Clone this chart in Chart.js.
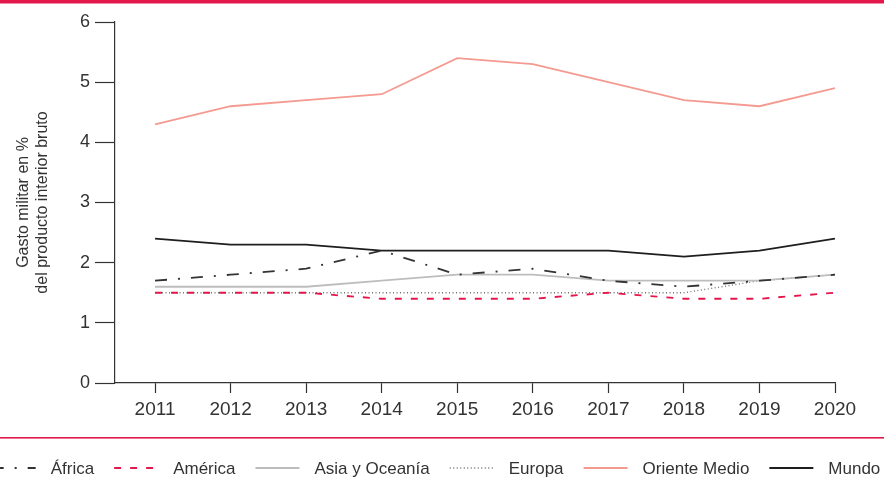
<!DOCTYPE html>
<html>
<head>
<meta charset="utf-8">
<script src="https://cdn.jsdelivr.net/npm/chart.js@4"></script>
<style>
html,body{margin:0;padding:0;background:#fff;}
#wrap{width:884px;height:478px;position:relative;}
</style>
</head>
<body>
<div id="wrap"><canvas id="c" width="884" height="478"></canvas></div>
<script>
const years = [2011, 2012, 2013, 2014, 2015, 2016, 2017, 2018, 2019, 2020];
const africa = [1.7, 1.8, 1.9, 2.2, 1.8, 1.9, 1.7, 1.6, 1.7, 1.8];
const america = [1.5, 1.5, 1.5, 1.4, 1.4, 1.4, 1.5, 1.4, 1.4, 1.5];
const asiaOceania = [1.6, 1.6, 1.6, 1.7, 1.8, 1.8, 1.7, 1.7, 1.7, 1.8];
const europa = [1.5, 1.5, 1.5, 1.5, 1.5, 1.5, 1.5, 1.5, 1.7, 1.8];
const orienteMedio = [4.3, 4.6, 4.7, 4.8, 5.4, 5.3, 5.0, 4.7, 4.6, 4.9];
const mundo = [2.4, 2.3, 2.3, 2.2, 2.2, 2.2, 2.2, 2.1, 2.2, 2.4];
const yTicks = [0, 1, 2, 3, 4, 5, 6];
const yTitle = ['Gasto militar en %', 'del producto interior bruto'];

const RED = '#e3174b';
const FONT = "'Liberation Sans', Arial, sans-serif";

function pts(arr) { return arr.map((v, i) => ({x: years[i], y: v})); }

const series = [
  {label: 'África', data: africa, color: '#333333', dash: [12, 11, 2, 11], width: 1.8},
  {label: 'América', data: america, color: '#e3174b', dash: [7, 9], width: 1.8},
  {label: 'Asia y Oceanía', data: asiaOceania, color: '#bdbdbd', dash: [], width: 1.8},
  {label: 'Europa', data: europa, color: '#6f6f6f', dash: [1, 2.5], width: 1.3},
  {label: 'Oriente Medio', data: orienteMedio, color: '#f59a90', dash: [], width: 1.8},
  {label: 'Mundo', data: mundo, color: '#1e1e1e', dash: [], width: 1.8}
];

const decor = {
  id: 'decor',
  afterDraw(chart) {
    const ctx = chart.ctx;
    ctx.save();
    ctx.fillStyle = RED;
    ctx.fillRect(0, 0, chart.width, 3.5);
    ctx.fillRect(0, 437, chart.width, 1.6);
    ctx.font = '17px ' + FONT;
    ctx.textBaseline = 'middle';
    const sample = 44, gapT = 15, gapItem = 20;
    const widths = series.map(s => ctx.measureText(s.label).width);
    let total = 0;
    widths.forEach((w, i) => { total += sample + gapT + w + (i < widths.length - 1 ? gapItem : 0); });
    let x = (chart.width - total) / 2 - 6;
    const y = 468;
    series.forEach((s, i) => {
      ctx.beginPath();
      ctx.setLineDash(s.dash);
      ctx.strokeStyle = s.color;
      ctx.lineWidth = s.width;
      ctx.moveTo(x, y);
      ctx.lineTo(x + sample, y);
      ctx.stroke();
      ctx.setLineDash([]);
      ctx.fillStyle = '#333';
      ctx.fillText(s.label, x + sample + gapT, y + 1);
      x += sample + gapT + widths[i] + gapItem;
    });
    ctx.restore();
  }
};

new Chart(document.getElementById('c'), {
  type: 'line',
  data: {
    datasets: series.map(s => ({
      label: s.label,
      data: pts(s.data),
      borderColor: s.color,
      borderWidth: s.width,
      borderDash: s.dash,
      pointRadius: 0,
      fill: false,
      tension: 0
    }))
  },
  options: {
    responsive: false,
    animation: false,
    events: [],
    layout: {padding: {top: 22, right: 49, bottom: 55, left: 0}},
    plugins: {legend: {display: false}, tooltip: {enabled: false}},
    scales: {
      x: {
        type: 'linear',
        min: 2010.47,
        max: 2020,
        afterFit(scale) { scale.height = 40; },
        afterBuildTicks(scale) { scale.ticks = years.map(v => ({value: v})); },
        grid: {drawOnChartArea: false, tickLength: 10, color: '#333', tickWidth: 1.2},
        border: {color: '#333', width: 1.2},
        ticks: {
          color: '#333',
          padding: 5,
          maxRotation: 0,
          autoSkip: false,
          font: {family: FONT, size: 19},
          callback: v => String(v)
        }
      },
      y: {
        min: 0,
        max: 6,
        afterFit(scale) { scale.width = 115; },
        afterBuildTicks(scale) { scale.ticks = yTicks.map(v => ({value: v})); },
        grid: {drawOnChartArea: false, tickLength: 20, color: '#333', tickWidth: 1.2},
        border: {color: '#333', width: 1.2},
        ticks: {color: '#333', padding: 5, font: {family: FONT, size: 18}},
        title: {
          display: true,
          text: yTitle,
          color: '#333',
          font: {family: FONT, size: 16},
          padding: {top: 14, bottom: 0}
        }
      }
    }
  },
  plugins: [decor]
});
</script>
</body>
</html>
